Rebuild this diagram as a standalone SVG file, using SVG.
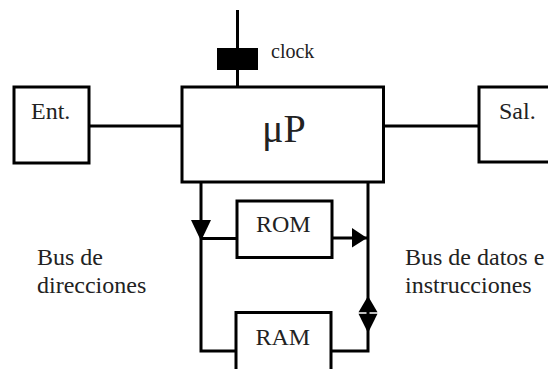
<svg xmlns="http://www.w3.org/2000/svg" width="548" height="369" viewBox="0 0 548 369">
  <style>
    .box { fill: #fff; stroke: #000; stroke-width: 3; }
    .wire { fill: none; stroke: #000; stroke-width: 3; }
    .head { fill: #000; stroke: none; }
    .lbl { font-family: "Liberation Serif", "Times New Roman", serif; fill: #222; font-size: 24px; }
  </style>
  <rect width="548" height="369" fill="#fff"/>
  <g id="connectors">
    <line class="wire" x1="237.5" y1="10" x2="237.5" y2="87"/>
    <line class="wire" x1="89" y1="126" x2="182" y2="126"/>
    <line class="wire" x1="383.5" y1="126" x2="479" y2="126"/>
    <polyline class="wire" points="201,182 201,351 236,351"/>
    <line class="wire" x1="201" y1="238.5" x2="237" y2="238.5"/>
    <line class="wire" x1="332" y1="238" x2="368" y2="238"/>
    <polyline class="wire" points="368,182 368,351 331,351"/>
    <polygon class="head" points="191,220 211,220 201,241"/>
    <polygon class="head" points="352,228 352,247.5 367,238"/>
    <polygon class="head" points="368,296 358.5,312.3 377.5,312.3"/>
    <polygon class="head" points="358.5,313.8 377.5,313.8 368,333"/>
  </g>
  <g id="clock">
    <rect x="217" y="48" width="41" height="22" fill="#000"/>
    <text class="lbl" x="271" y="58" style="font-size:20px">clock</text>
  </g>
  <g id="ent">
    <rect class="box" x="14" y="87" width="75" height="76"/>
    <text class="lbl" x="31" y="119">Ent.</text>
  </g>
  <g id="up">
    <rect class="box" x="182" y="87" width="201.5" height="95"/>
    <text class="lbl" x="262" y="142" style="font-size:40px">μP</text>
  </g>
  <g id="sal">
    <rect class="box" x="479" y="87" width="90" height="75"/>
    <text class="lbl" x="499" y="119">Sal.</text>
  </g>
  <g id="rom">
    <rect class="box" x="237" y="201" width="95" height="56.5"/>
    <text class="lbl" x="256" y="232">ROM</text>
  </g>
  <g id="ram">
    <rect class="box" x="236" y="312.5" width="95" height="70"/>
    <text class="lbl" x="255.5" y="345">RAM</text>
  </g>
  <g id="bus-dir">
    <text class="lbl" x="37" y="265">Bus de</text>
    <text class="lbl" x="37" y="293">direcciones</text>
  </g>
  <g id="bus-datos">
    <text class="lbl" x="405" y="265">Bus de datos e</text>
    <text class="lbl" x="405" y="293">instrucciones</text>
  </g>
</svg>
